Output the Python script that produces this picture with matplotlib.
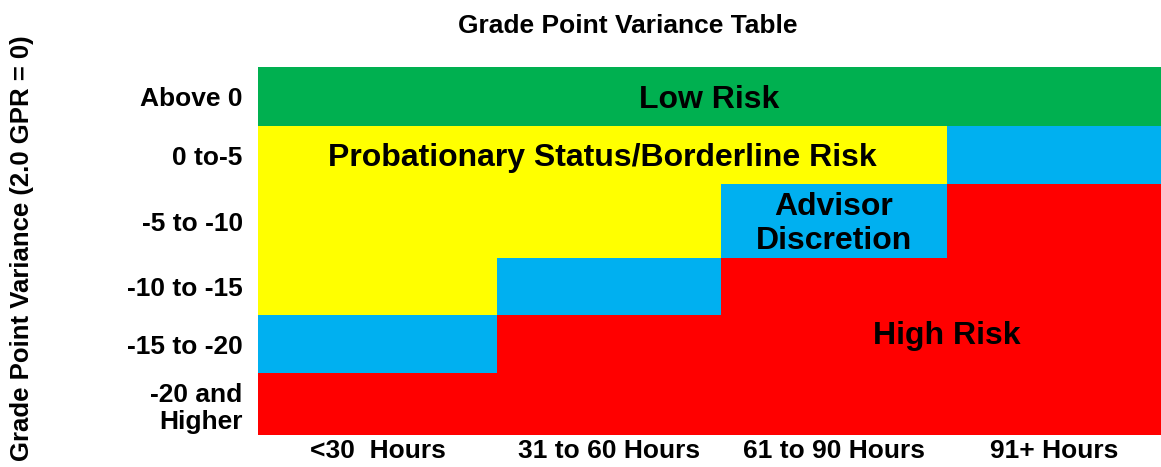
import numpy as np
import matplotlib.pyplot as plt
from matplotlib.colors import ListedColormap

# Table categories
hour_bands = ['<30  Hours', '31 to 60 Hours', '61 to 90 Hours', '91+ Hours']
variance_bands = ['Above 0', '0 to-5', '-5 to -10', '-10 to -15', '-15 to -20', '-20 and\nHigher']

# risk level per cell: 0 low, 1 probation, 2 advisor, 3 high
risk_grid = [
    [0, 0, 0, 0],
    [1, 1, 1, 2],
    [1, 1, 2, 3],
    [1, 2, 3, 3],
    [2, 3, 3, 3],
    [3, 3, 3, 3],
]
risk_colors = ['#00B050', '#FFFF00', '#00B0F0', '#FF0000']

# layout: cell widths/heights in pixels as drawn
col_w = [239, 224, 226, 214]
row_h = [59, 58, 74, 57, 58, 62]

W, H = 1161, 467
fig = plt.figure(figsize=(W / 100, H / 100), dpi=100)
plt.rcParams['font.family'] = ['Liberation Sans', 'DejaVu Sans']

left, right, top, bottom = 258, 1161, 67, 435
ax = fig.add_axes([left / W, 1 - bottom / H, (right - left) / W, (bottom - top) / H])

x_edges = np.concatenate([[0], np.cumsum(col_w)])
y_edges = np.concatenate([[0], np.cumsum(row_h)])

cmap = ListedColormap(risk_colors)
ax.pcolormesh(x_edges, y_edges, np.array(risk_grid), cmap=cmap, vmin=-0.5, vmax=3.5)
ax.set_xlim(x_edges[0], x_edges[-1])
ax.set_ylim(y_edges[-1], y_edges[0])

x_mid = (x_edges[:-1] + x_edges[1:]) / 2
y_mid = (y_edges[:-1] + y_edges[1:]) / 2
ax.set_xticks(x_mid)
ax.set_xticklabels(hour_bands, fontsize=19, fontweight='bold')
ax.set_yticks(y_mid)
ax.set_yticklabels(variance_bands, fontsize=19, fontweight='bold', linespacing=1.2)
ax.tick_params(length=0, pad=11)
ax.tick_params(axis='x', pad=3)
for s in ax.spines.values():
    s.set_visible(False)

# region labels
lbl = dict(fontsize=23, fontweight='bold', ha='center', va='center')
dy = 3
ax.text(x_edges[-1] / 2, y_mid[0] + dy, 'Low Risk', **lbl)
ax.text(x_edges[3] / 2, y_mid[1] + dy, 'Probationary Status/Borderline Risk', **lbl)
ax.text(x_mid[2], y_mid[2] + dy, 'Advisor\nDiscretion', linespacing=1.15, **lbl)
ax.text(x_edges[3], (y_edges[4] + y_edges[5]) / 2 - 8, 'High Risk', **lbl)

fig.text(628 / W, 1 - 26 / H, 'Grade Point Variance Table', fontsize=19,
         fontweight='bold', ha='center', va='center')
fig.text(22 / W, 1 - 248 / H, 'Grade Point Variance (2.0 GPR = 0)', fontsize=18.5,
         fontweight='bold', rotation=90, ha='center', va='center')

fig.savefig('out.png', dpi=100)
